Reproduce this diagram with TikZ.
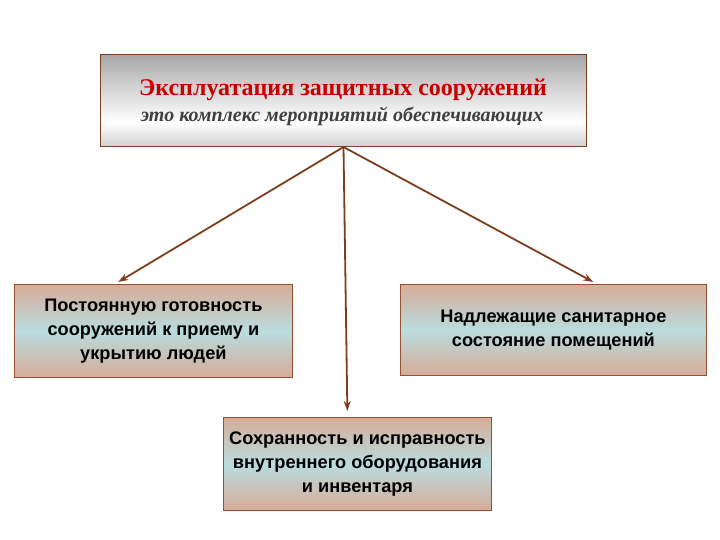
\documentclass[tikz,border=0pt]{standalone}
\usepackage{fontspec}
\setmainfont{Liberation Serif}
\setsansfont{Liberation Sans}
\usetikzlibrary{calc,arrows.meta}
\definecolor{peach}{RGB}{214,172,152}
\definecolor{lblue}{RGB}{186,220,222}
\definecolor{brn}{RGB}{125,62,30}
\definecolor{bordc}{RGB}{150,80,50}
\definecolor{titred}{RGB}{200,0,0}
\pgfdeclareverticalshading{topshade}{100bp}{color(0bp)=(black!50); color(20bp)=(black!25); color(38bp)=(white); color(60bp)=(black!20); color(100bp)=(black!60)}
\tikzset{
  subbox/.style={draw=bordc, line width=0.8pt, top color=peach, bottom color=peach, middle color=lblue, anchor=north west, inner sep=0pt, font=\sffamily\bfseries\fontsize{18.2}{24}\selectfont, align=center, text=black},
  conn/.style={draw=brn, line width=1.8pt, -{Stealth[length=10pt,width=7pt]}}
}
\begin{document}
\begin{tikzpicture}[x=1pt,y=-1pt]
\useasboundingbox (0,0) rectangle (720,540);
\node[draw=brn, line width=1pt, shading=topshade, anchor=north west, minimum width=486pt, minimum height=92pt, inner sep=0pt] (top) at (100,54) {};
\node[font=\bfseries\fontsize{24}{26}\selectfont, text=titred] (ttl) at (343,90) {Эксплуатация защитных сооружений};
\node[font=\bfseries\itshape\fontsize{20}{22}\selectfont, text=black!75] (sub) at (342,116) {это комплекс мероприятий обеспечивающих};
\node[subbox, minimum width=278pt, minimum height=93pt] (lb) at (14,284) {Постоянную готовность\\сооружений к приему и\\укрытию людей};
\node[subbox, minimum width=306pt, minimum height=91pt] (rb) at (400,284) {Надлежащие санитарное\\состояние помещений};
\node[subbox, minimum width=268pt, minimum height=93pt] (bb) at (223,417) {Сохранность и исправность\\внутреннего оборудования\\и инвентаря};
\draw[conn] (top.south) -- ($(lb.north west)!0.374!(lb.north east)+(0,-2)$);
\draw[conn, shorten >=6pt] (top.south) -- ($(bb.north west)!0.463!(bb.north east)$);
\draw[conn] (top.south) -- ($(rb.north west)!0.63!(rb.north east)+(0,-2)$);
\end{tikzpicture}
\end{document}
